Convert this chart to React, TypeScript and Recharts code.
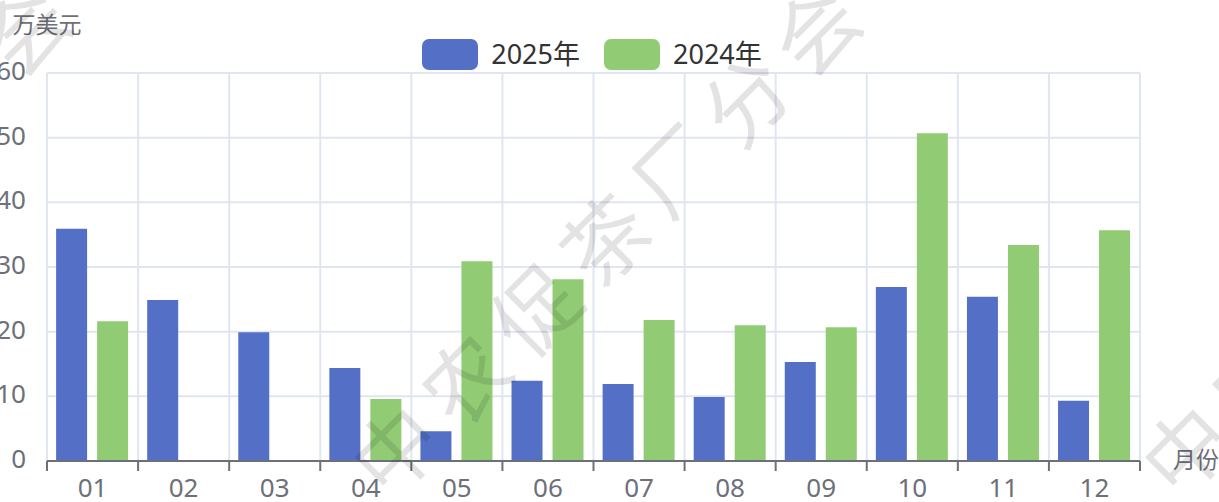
import React from 'react';
import { BarChart, Bar, XAxis, YAxis, CartesianGrid, Legend } from 'recharts';

// ---- data ----
const months = ['01', '02', '03', '04', '05', '06', '07', '08', '09', '10', '11', '12'];
const sales2025 = [35.9, 24.9, 19.9, 14.4, 4.6, 12.4, 11.9, 9.9, 15.3, 26.9, 25.4, 9.3];
const sales2024 = [21.6, null, null, 9.6, 30.9, 28.1, 21.8, 21.0, 20.7, 50.7, 33.4, 35.7];
const yTicks = [0, 10, 20, 30, 40, 50, 60];
const seriesNames = ['2025年', '2024年'];
const yAxisName = '万美元';
const xAxisName = '月份';
const watermarkText = '中农促茶厂分会';

// ---- style / layout ----
const W = 1219;
const H = 502;
const MT = 73;
const MR = 79;
const YW = 47;
const XH = 41;
const PLOT_W = W - MR - YW;
const PLOT_BOTTOM = H - XH;
const COLORS = ['#5470C6', '#91CC75'];
const AXIS_COLOR = '#6E7079';
const GRID_COLOR = '#E0E6F1';
const FONT = "'Noto Sans', 'Noto Sans CJK SC', sans-serif";

const data = months.map((m, i) => ({
  month: m,
  s2025: sales2025[i],
  s2024: sales2024[i],
}));

const XTick = (props: any) => {
  const { x, y, payload, index } = props;
  const bw = PLOT_W / months.length;
  const i = typeof index === 'number' ? index : months.indexOf(payload.value);
  return (
    <g>
      <line x1={x - bw / 2} x2={x - bw / 2} y1={y} y2={y + 10} stroke={AXIS_COLOR} strokeWidth={2} />
      {i === months.length - 1 && (
        <line x1={x + bw / 2} x2={x + bw / 2} y1={y} y2={y + 10} stroke={AXIS_COLOR} strokeWidth={2} />
      )}
      <text x={x} y={y + 36} textAnchor="middle" fill={AXIS_COLOR} fontSize={26} fontFamily={FONT}>
        {payload.value}
      </text>
    </g>
  );
};

const YTick = (props: any) => {
  const { x, y, payload } = props;
  return (
    <text x={x} y={y - 3} textAnchor="end" dominantBaseline="central" fill={AXIS_COLOR} fontSize={26} fontFamily={FONT}>
      {payload.value}
    </text>
  );
};

const renderLegend = () => (
  <div
    style={{
      display: 'flex',
      justifyContent: 'center',
      alignItems: 'center',
      fontFamily: FONT,
      fontSize: 27,
      color: '#333',
    }}
  >
    {seriesNames.map((n, i) => (
      <div key={n} style={{ display: 'flex', alignItems: 'center', marginLeft: i ? 24 : 0 }}>
        <span
          style={{
            display: 'inline-block',
            width: 56,
            height: 31,
            borderRadius: 7,
            background: COLORS[i],
            marginRight: 13,
          }}
        />
        <span style={{ lineHeight: '32px' }}>{n}</span>
      </div>
    ))}
  </div>
);

const verticalGen = (args: any) => {
  const off = args && args.offset;
  const left = off && typeof off.left === 'number' ? off.left : YW;
  const width = off && typeof off.width === 'number' ? off.width : PLOT_W;
  const arr: number[] = [];
  for (let i = 0; i <= months.length; i++) arr.push(left + (i * width) / months.length);
  return arr;
};

export default function App() {
  return (
    <div style={{ position: 'absolute', left: 0, top: 0, width: W, height: H, overflow: 'hidden', background: '#fff' }}>
      <BarChart
        width={W}
        height={H}
        data={data}
        margin={{ top: MT, right: MR, bottom: 0, left: 0 }}
        barCategoryGap="10%"
        barGap={10}
      >
        <CartesianGrid stroke={GRID_COLOR} strokeWidth={2} verticalCoordinatesGenerator={verticalGen} />
        <XAxis
          dataKey="month"
          height={XH}
          tickSize={0}
          tickMargin={0}
          tickLine={false}
          axisLine={{ stroke: AXIS_COLOR, strokeWidth: 2 }}
          tick={<XTick />}
          interval={0}
        />
        <YAxis
          width={YW}
          domain={[0, 60]}
          ticks={yTicks}
          tickSize={0}
          tickMargin={21}
          tickLine={false}
          axisLine={false}
          tick={<YTick />}
          interval={0}
        />
        <Legend
          verticalAlign="middle"
          align="center"
          content={renderLegend}
          wrapperStyle={{ top: 38, left: 0, width: 1184, height: 32 }}
        />
        <Bar dataKey="s2025" name={seriesNames[0]} fill={COLORS[0]} isAnimationActive={false} />
        <Bar dataKey="s2024" name={seriesNames[1]} fill={COLORS[1]} isAnimationActive={false} />
      </BarChart>
      <div
        style={{
          position: 'absolute',
          left: YW - 60,
          top: 24 - 15,
          width: 120,
          height: 30,
          lineHeight: '30px',
          textAlign: 'center',
          fontFamily: FONT,
          fontSize: 23,
          color: AXIS_COLOR,
        }}
      >
        {yAxisName}
      </div>
      <div
        style={{
          position: 'absolute',
          left: YW + PLOT_W + 33,
          top: PLOT_BOTTOM - 2 - 15,
          height: 30,
          lineHeight: '30px',
          fontFamily: FONT,
          fontSize: 23,
          color: AXIS_COLOR,
          whiteSpace: 'nowrap',
        }}
      >
        {xAxisName}
      </div>
      {[-790, 0, 790].map((dx) => (
        <div
          key={dx}
          style={{
            position: 'absolute',
            left: 600 + dx - 350,
            top: 240 - 50,
            width: 700,
            height: 100,
            lineHeight: '100px',
            textAlign: 'center',
            fontFamily: "'Noto Sans CJK SC', sans-serif",
            fontWeight: 400,
            fontSize: 84,
            letterSpacing: 15,
            paddingLeft: 15,
            boxSizing: 'border-box',
            color: 'rgba(0,0,0,0.11)',
            transform: 'rotate(-45deg)',
            whiteSpace: 'nowrap',
            pointerEvents: 'none',
          }}
        >
          {watermarkText}
        </div>
      ))}
    </div>
  );
}
